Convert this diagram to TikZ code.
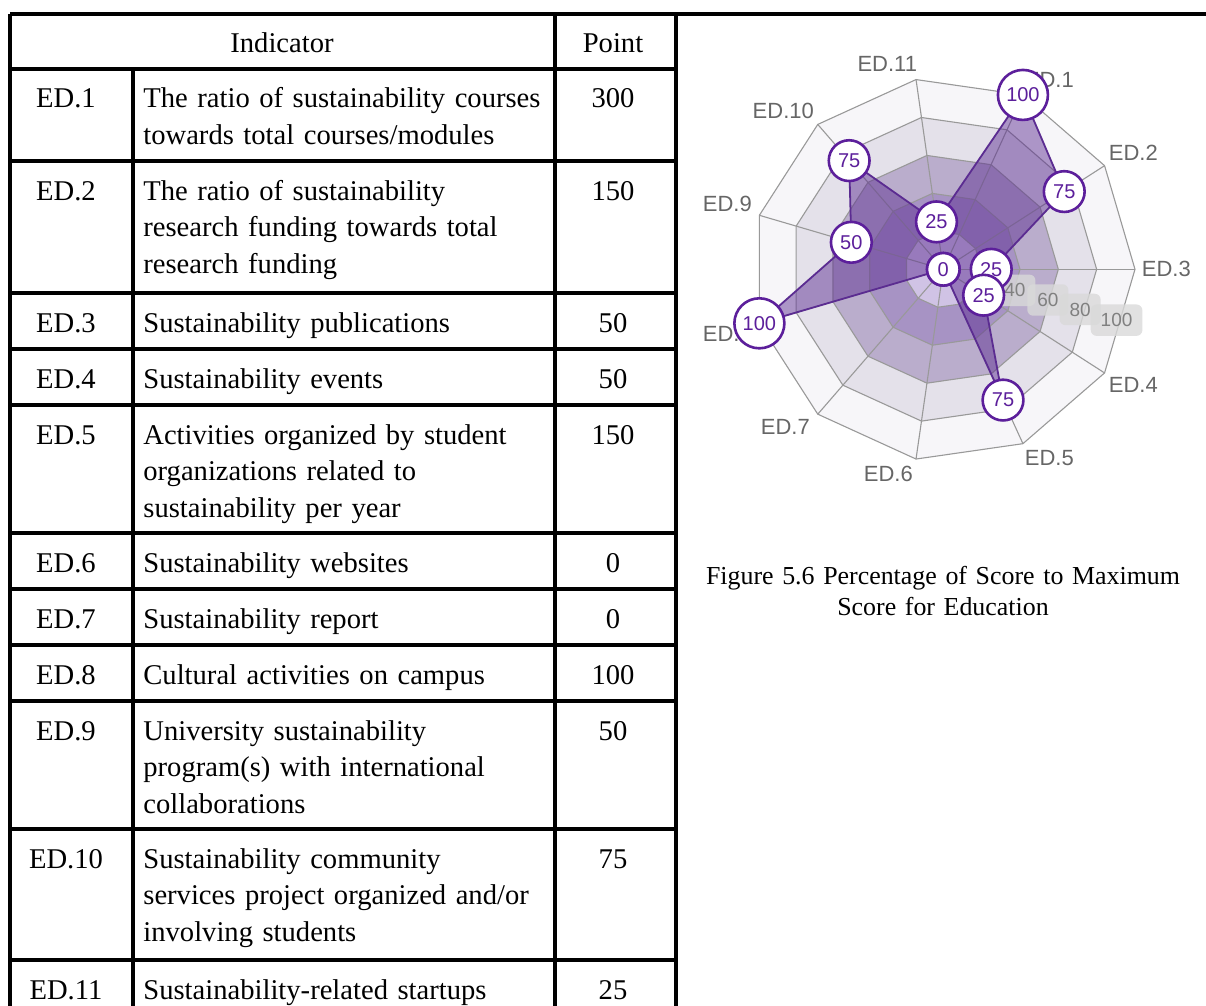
\documentclass[tikz,border=0pt]{standalone}
\usepackage{fontspec}
\setmainfont{Liberation Serif}
\newfontfamily\chartfont{Liberation Sans}
\definecolor{band1}{HTML}{D0C3E5}
\definecolor{band2}{HTML}{A793C4}
\definecolor{band3}{HTML}{BAADCC}
\definecolor{band4}{HTML}{E4E1EA}
\definecolor{band5}{HTML}{F7F6F9}
\definecolor{datapurple}{HTML}{5B2C91}
\definecolor{markpurple}{HTML}{5C1F9B}
\definecolor{gridgray}{HTML}{999999}
\definecolor{labelgray}{HTML}{666666}
\tikzset{
  cell/.style={anchor=base,inner sep=0pt,font=\fontsize{14.3}{18.25}\selectfont},
  desc/.style={cell,anchor=base west,text width=210pt,align=left},
  rule/.style={line width=1.6pt},
  gridline/.style={draw=gridgray,line width=.55pt},
  dataline/.style={draw=datapurple,line width=.9pt,fill=datapurple,fill opacity=.48},
  axislbl/.style={inner sep=0pt,text=labelgray,font=\chartfont\fontsize{11}{13}\selectfont},
  scalelbl/.style={fill=gray!30,fill opacity=.8,text opacity=1,rounded corners=3pt,
    inner xsep=5pt,inner ysep=4.5pt,text=gray,font=\chartfont\fontsize{9.5}{11}\selectfont},
  valpt/.style={circle,draw=markpurple,line width=1.3pt,fill=white,text=markpurple,
    inner sep=2.6pt,font=\chartfont\fontsize{10}{12}\selectfont}
}
\begin{document}
\begin{tikzpicture}[x=.5pt,y=-.5pt]
\useasboundingbox (0,0) rectangle (1206,1006);
% table
\draw[rule] (10,14) -- (1206,14) (10,14) -- (10,1006) (133,69) -- (133,1006)
  (555,14) -- (555,1006) (676,14) -- (676,1006);
\foreach \y in {69,161,293,349,405,533,589,645,701,829,960} \draw[rule] (10,\y) -- (676,\y);
\node[cell] (hind) at (282,53) {Indicator};
\node[cell] (hpt) at (613,53) {Point};
\foreach \k/\t/\d/\p in {1/69/{The ratio of sustainability courses\\towards total courses/modules}/300,
  2/161/{The ratio of sustainability\\research funding towards total\\research funding}/150,
  3/293/{Sustainability publications}/50,
  4/349/{Sustainability events}/50,
  5/405/{Activities organized by student\\organizations related to\\sustainability per year}/150,
  6/533/{Sustainability websites}/0,
  7/589/{Sustainability report}/0,
  8/645/{Cultural activities on campus}/100,
  9/701/{University sustainability\\program(s) with international\\collaborations}/50,
  10/829/{Sustainability community\\services project organized and/or\\involving students}/75,
  11/960/{Sustainability-related startups}/25}
{
  \node[cell] (E\k) at (66,\t+39) {ED.\k};
  \node[desc] (T\k) at (143,\t+39) {\d};
  \node[cell] (N\k) at (613,\t+39) {\p};
}
\node[cell,text width=250pt,align=center,font=\fontsize{12.95}{15.85}\selectfont] (cap) at (943,584)
  {Figure 5.6 Percentage of Score to Maximum\\Score for Education};
% radar chart
\begin{scope}[shift={(943.3,269.3)},y=.5pt]
  \def\R{191.7}
  \foreach \j in {5,...,1}
    \fill[band\j] (0:{\j*\R/5}) \foreach \i in {1,...,10} {-- ({\i*360/11}:{\j*\R/5})} -- cycle;
  \foreach \j in {1,...,5}
    \draw[gridline] (0:{\j*\R/5}) \foreach \i in {1,...,10} {-- ({\i*360/11}:{\j*\R/5})} -- cycle;
  \foreach \i in {0,...,10} \draw[gridline] (0,0) -- ({\i*360/11}:\R);
  \foreach \k/\v in {1/100,2/75,3/25,4/25,5/75,6/0,7/0,8/100,9/50,10/75,11/25}
    \coordinate (D\k) at ({(3-\k)*360/11}:{\v/100*\R});
  \draw[dataline] (D1) -- (D2) -- (D3) -- (D4) -- (D5) -- (D6) -- (D7) -- (D8) -- (D9) -- (D10) -- (D11) -- cycle;
  \foreach \k/\x/\y in {1/106/189,2/190/116,3/223/0,4/190/-116,5/106/-189,6/-55/-205,
    7/-158/-158,8/-216/-65,9/-216/65,10/-160/158,11/-56/205}
    \node[axislbl] (L\k) at (\x,\y) {ED.\k};
  \foreach \v/\r in {40/74.6,60/109,80/142.6,100/180.6}
    \node[scalelbl] (S\v) at (-360/22:\r) {\v};
  \foreach \k/\v in {1/100,2/75,3/25,4/25,5/75,6/0,7/0,8/100,9/50,10/75,11/25}
    \node[valpt] (P\k) at (D\k) {\v};
\end{scope}
\end{tikzpicture}
\end{document}
